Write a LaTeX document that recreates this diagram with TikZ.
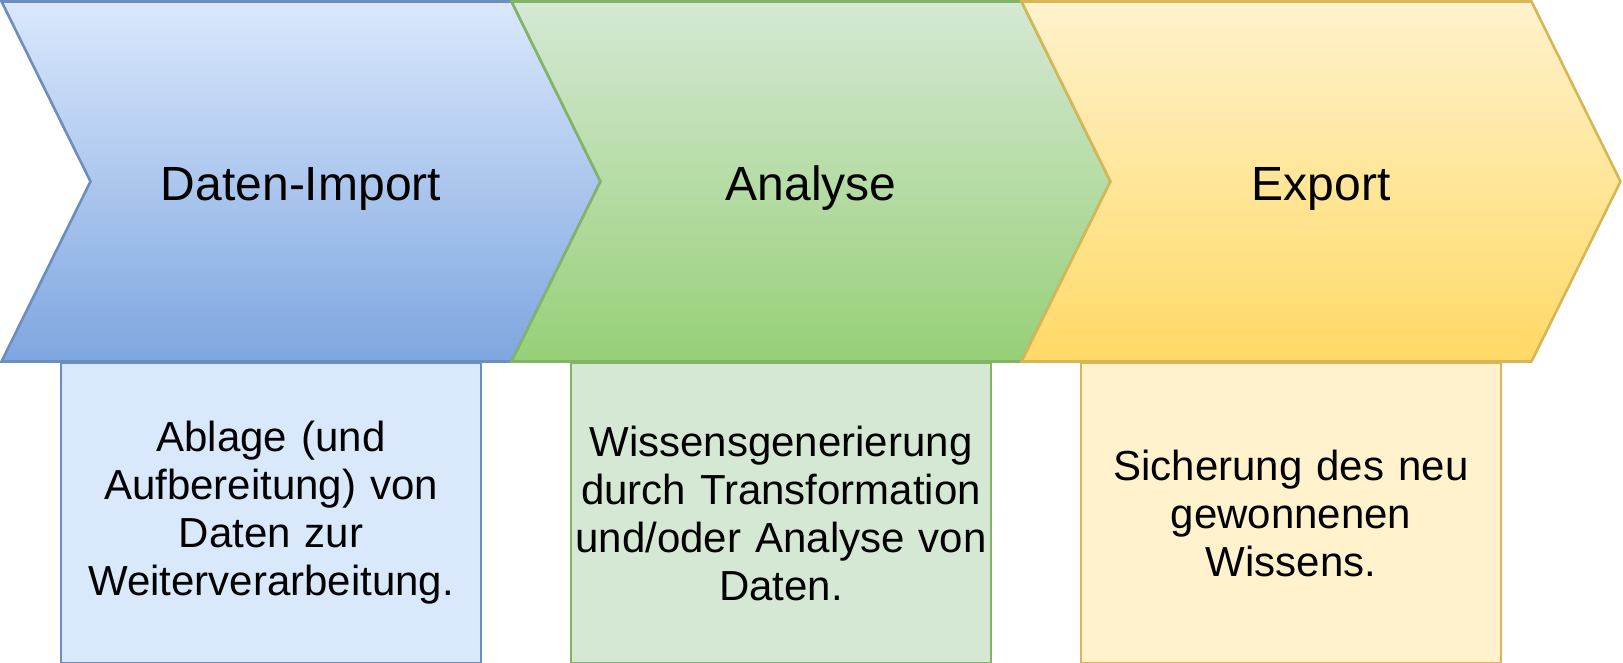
\documentclass[tikz,border=0pt]{standalone}
\usepackage{fontspec}
\setmainfont{Liberation Sans}
\usepackage{xcolor}
\definecolor{blueTop}{HTML}{DAE8FC}
\definecolor{blueBottom}{HTML}{7EA6E0}
\definecolor{blueLine}{HTML}{6C8EBF}
\definecolor{greenTop}{HTML}{D5E8D4}
\definecolor{greenBottom}{HTML}{97D077}
\definecolor{greenLine}{HTML}{82B366}
\definecolor{yellowTop}{HTML}{FFF2CC}
\definecolor{yellowBottom}{HTML}{FFD966}
\definecolor{yellowLine}{HTML}{D6B656}

\begin{document}
\begin{tikzpicture}[x=1pt,y=-1pt]
    % Define stage and box styles
    \tikzstyle{stage}=[line width=2.6pt]
    \tikzstyle{title}=[anchor=base, font=\fontsize{48}{57.6}\selectfont]
    \tikzstyle{task}=[draw, rectangle, line width=2.6pt, minimum width=420pt, minimum height=300pt, text width=418pt, inner sep=0pt, align=center, font=\fontsize{42}{48}\selectfont]

    \useasboundingbox (0,0) rectangle (1623,663);

    % Place stages
    \draw[stage, draw=blueLine, top color=blueTop, bottom color=blueBottom]
        (1.5,1.5) -- (511.5,1.5) -- (600.5,181.5) -- (511.5,361.5) -- (1.5,361.5) -- (90.5,181.5) -- cycle;
    \draw[stage, draw=greenLine, top color=greenTop, bottom color=greenBottom]
        (511.5,1.5) -- (1021.5,1.5) -- (1110.5,181.5) -- (1021.5,361.5) -- (511.5,361.5) -- (600.5,181.5) -- cycle;
    \draw[stage, draw=yellowLine, top color=yellowTop, bottom color=yellowBottom]
        (1021.5,1.5) -- (1531.5,1.5) -- (1620.5,181.5) -- (1531.5,361.5) -- (1021.5,361.5) -- (1110.5,181.5) -- cycle;

    % Stage titles
    \node[title] (import) at (301,201) {Daten-Import};
    \node[title] (analyse) at (811,201) {Analyse};
    \node[title] (export) at (1321,201) {Export};

    % Place task boxes
    \node[task, draw=blueLine, fill=blueTop] (ablage) at (271,513)
        {Ablage (und\\Aufbereitung) von\\Daten zur\\Weiterverarbeitung.};
    \node[task, draw=greenLine, fill=greenTop] (wissen) at (781,513)
        {Wissensgenerierung\\durch Transformation\\und/oder Analyse von\\Daten.};
    \node[task, draw=yellowLine, fill=yellowTop] (sicherung) at (1291,513)
        {Sicherung des neu\\gewonnenen\\Wissens.};
\end{tikzpicture}
\end{document}
